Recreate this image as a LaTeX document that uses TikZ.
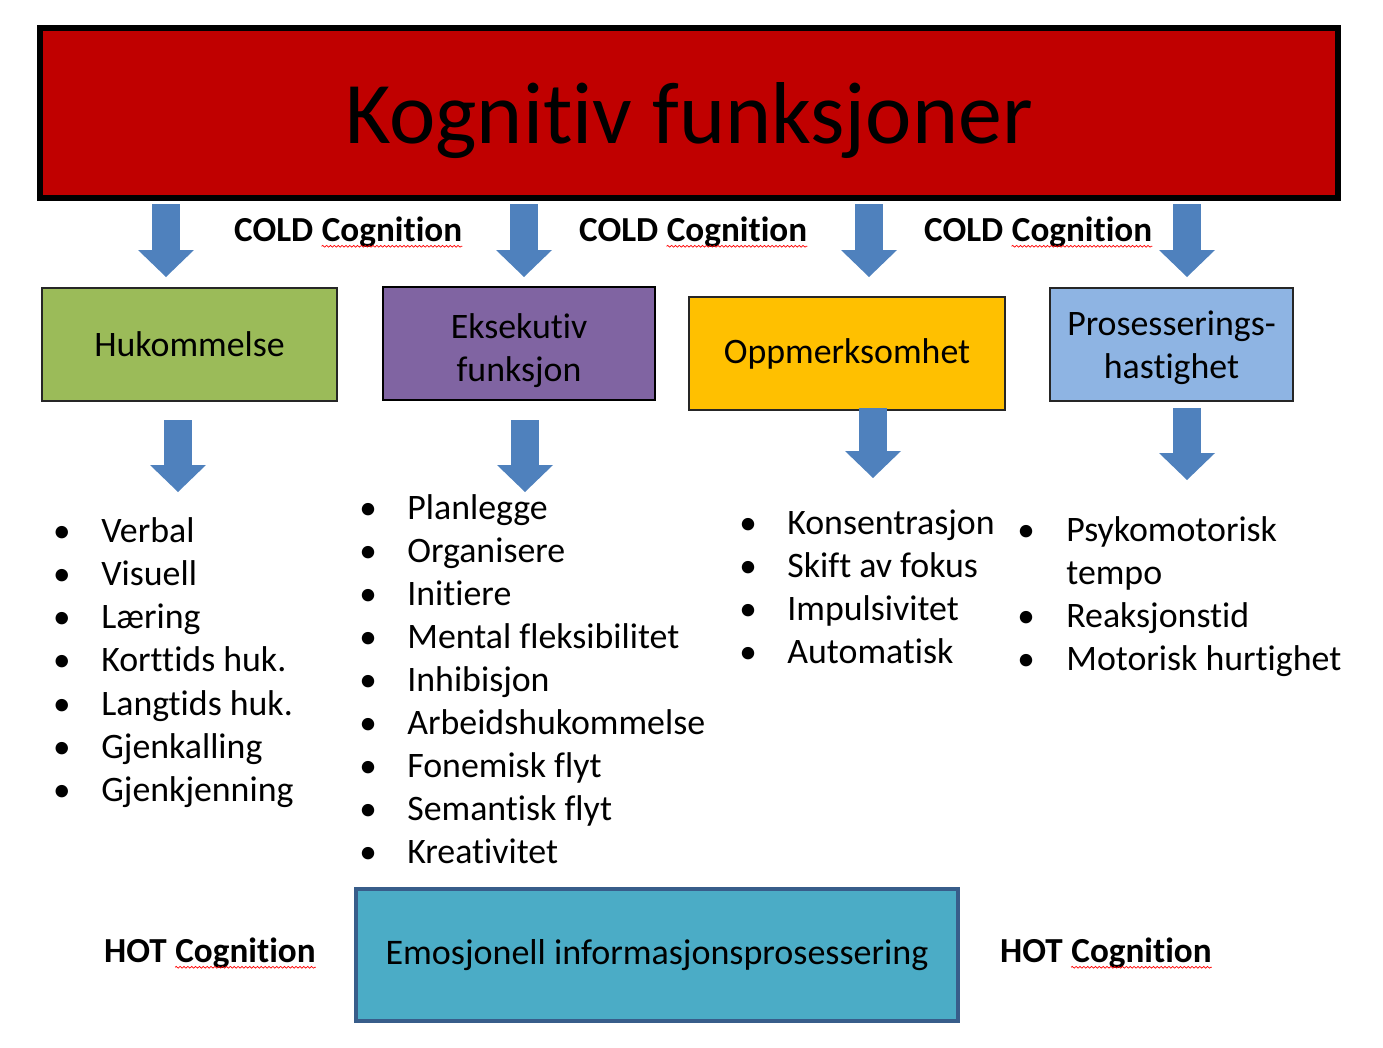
\documentclass[tikz,border=0pt]{standalone}
\usepackage{fontspec}
\setmainfont{Carlito}[RawFeature={-liga;-clig;-calt;-dlig}]
\usetikzlibrary{arrows.meta,positioning,decorations.pathmorphing}
\definecolor{kf.red}{RGB}{192,0,0}
\definecolor{kf.arrow}{RGB}{79,129,189}
\definecolor{kf.green}{RGB}{155,187,89}
\definecolor{kf.purple}{RGB}{128,100,162}
\definecolor{kf.orange}{RGB}{255,192,0}
\definecolor{kf.sky}{RGB}{142,180,227}
\definecolor{kf.teal}{RGB}{75,172,198}
\definecolor{kf.edge}{RGB}{56,93,138}

\begin{document}
\begin{tikzpicture}[x=0.02cm, y=-0.02cm]
  \tikzset{box/.style={rectangle, draw=black!85, line width=0.8pt,
      minimum height=2.26cm, align=center, font=\fontsize{20.4}{24.4}\selectfont},
    blk/.style={draw=kf.arrow, line width=0.56cm,
      -{Triangle[length=0.54cm, width=1.12cm, line width=0pt]}},
    punkt/.style={anchor=base west, inner sep=0pt, font=\fontsize{20.4}{24.4}\selectfont},
    dot/.style={anchor=base, inner sep=0pt, font=\fontsize{20}{24.4}\selectfont},
    cog/.style={anchor=base, inner sep=0pt, font=\fontsize{20}{24}\selectfont\bfseries},
    squig/.style={draw=red, line width=0.4pt, decorate,
      decoration={snake, amplitude=0.5pt, segment length=2.2pt}}}
  \useasboundingbox (0,0) rectangle (1383,1048);

  \node[draw=black, line width=3pt, fill=kf.red, minimum width=25.96cm,
    minimum height=3.4cm, text depth=0pt, font=\fontsize{50}{60}\selectfont]
    (kf) at (689,113) {Kognitiv funksjoner};

  \node[box, fill=kf.green, minimum width=5.9cm] (huk) at (189.5,344.5) {Hukommelse};
  \node[box, fill=kf.purple, draw=black, line width=1.3pt, minimum width=5.44cm]
    (eks) at (519,343.5) {\rule{0pt}{22pt}Eksekutiv\\funksjon};
  \node[box, fill=kf.orange, minimum width=6.32cm] (opp) at (847,353.5) {Oppmerksomhet};
  \node[box, fill=kf.sky, minimum width=4.86cm] (pro) at (1171.5,344.5)
    {\rule{0pt}{17.5pt}Prosesserings-\\hastighet};
  \node[box, fill=kf.teal, draw=kf.edge, line width=2.2pt, minimum width=12.04cm,
    minimum height=2.64cm, font=\fontsize{20.5}{25}\selectfont] (emo) at (657,955)
    {Emosjonell informasjonsprosessering};

  \foreach \x [count=\i] in {166,524,869,1187} {
    \coordinate (a\i) at (\x,204);
    \coordinate (b\i) at (\x,277);
    \draw[blk] (a\i) -- (b\i);
  }
  \foreach \x/\s/\e [count=\i] in {178/420/492, 525/420/492, 873/408/478, 1187/408/480} {
    \coordinate (c\i) at (\x,\s);
    \coordinate (d\i) at (\x,\e);
    \draw[blk] (c\i) -- (d\i);
  }

  \foreach \x/\y/\w [count=\i] in {392/241/COLD, 737/241/COLD, 1082/241/COLD,
      245.5/962/HOT, 1141.5/962/HOT} {
    \node[cog] (cg\i) at (\x,\y) {Cognition};
    \node[cog, base left=4.5pt of cg\i] (cw\i) {\w};
    \draw[squig] ([yshift=-3pt]cg\i.base west) -- ([yshift=-3pt]cg\i.base east);
  }

  \foreach \ord [count=\i] in {Verbal, Visuell, Læring, Korttids huk., Langtids huk.,
      Gjenkalling, Gjenkjenning} {
    \node[dot] (hb\i) at (62,{542+43.3*(\i-1)}) {\textbullet};
    \node[punkt] (hl\i) at (101,{542+43.3*(\i-1)}) {\ord};
  }
  \foreach \ord [count=\i] in {Planlegge, Organisere, Initiere, Mental fleksibilitet,
      Inhibisjon, Arbeidshukommelse, Fonemisk flyt, Semantisk flyt, Kreativitet} {
    \node[dot] (eb\i) at (368,{519+43.1*(\i-1)}) {\textbullet};
    \node[punkt] (el\i) at (407,{519+43.1*(\i-1)}) {\ord};
  }
  \foreach \ord [count=\i] in {Konsentrasjon, Skift av fokus, Impulsivitet, Automatisk} {
    \node[dot] (ob\i) at (748,{534+43*(\i-1)}) {\textbullet};
    \node[punkt] (ol\i) at (787,{534+43*(\i-1)}) {\ord};
  }
  \node[dot] (pb1) at (1026,541) {\textbullet};
  \node[punkt] (pl1) at (1066,541) {Psykomotorisk};
  \node[punkt] (pl1b) at (1066,584) {tempo};
  \node[dot] (pb2) at (1026,627) {\textbullet};
  \node[punkt] (pl2) at (1066,627) {Reaksjonstid};
  \node[dot] (pb3) at (1026,670) {\textbullet};
  \node[punkt] (pl3) at (1066,670) {Motorisk hurtighet};
\end{tikzpicture}
\end{document}
